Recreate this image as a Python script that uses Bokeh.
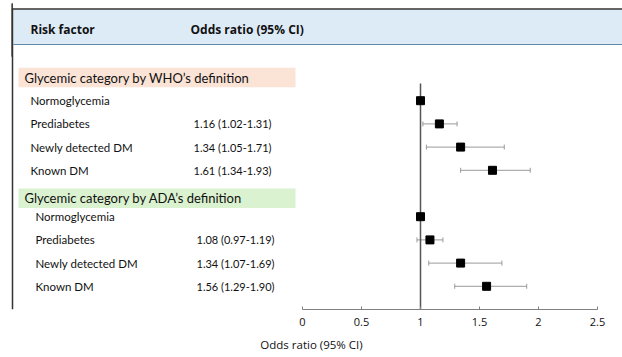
import numpy as np
from bokeh.plotting import figure
from bokeh.models import Range1d, LinearAxis, FixedTicker, ColumnDataSource, Label
from bokeh.core.properties import value
from bokeh.embed import file_html
from bokeh.resources import INLINE

# ---- data ----
groups = ["Glycemic category by WHO\u2019s definition", "Glycemic category by ADA\u2019s definition"]
categories = ["Normoglycemia", "Prediabetes", "Newly detected DM", "Known DM"]
who_or = [1.0, 1.16, 1.34, 1.61]
who_lo = [None, 1.02, 1.05, 1.34]
who_hi = [None, 1.31, 1.71, 1.93]
who_txt = ["", "1.16 (1.02-1.31)", "1.34 (1.05-1.71)", "1.61 (1.34-1.93)"]
ada_or = [1.0, 1.08, 1.34, 1.56]
ada_lo = [None, 0.97, 1.07, 1.29]
ada_hi = [None, 1.19, 1.69, 1.90]
ada_txt = ["", "1.08 (0.97-1.19)", "1.34 (1.07-1.69)", "1.56 (1.29-1.90)"]
tick_vals = [0, 0.5, 1, 1.5, 2, 2.5]
tick_labels = ["0", "0.5", "1", "1.5", "2", "2.5"]

# ---- layout helpers (page pixel -> data) ----
X0, XS = 302.0, 118.0      # page x of OR=0, px per unit
Y0, YS = 77.0, 23.2        # page y of row 0, px per row
def dx(px):
    return (px - X0) / XS
def dy(py):
    return (py - Y0) / YS

W, H = 622, 357
FONT = "Lato"
HFONT = "Open Sans"

p = figure(width=W, height=H, output_backend="svg", toolbar_location=None,
           x_axis_type=None, y_axis_type=None,
           x_range=Range1d(dx(0), dx(W)), y_range=Range1d(dy(309), dy(0)),
           min_border_left=0, min_border_right=0, min_border_top=0, min_border_bottom=48)
p.outline_line_color = None
p.background_fill_color = "white"
p.border_fill_color = "white"

# header band
p.quad(left=dx(13), right=dx(W), top=dy(9), bottom=dy(44), fill_color="#DDEBF7", line_color=None)
p.segment(x0=dx(13), y0=dy(44), x1=dx(W), y1=dy(44), line_color="#5E89A8", line_width=1.2)
p.segment(x0=dx(12), y0=dy(8.4), x1=dx(W), y1=dy(8.4), line_color="#333333", line_width=1.5)
# left border (frame part)
p.segment(x0=dx(12), y0=dy(8), x1=dx(12), y1=dy(309), line_color="#333333", line_width=1.5)
# left border below the frame
p.add_layout(Label(x=11.5, y=306, x_units="screen", y_units="screen", text=" ",
                   text_font_size="1px", anchor="top_left",
                   padding=dict(left=0, right=0, top=0, bottom=52),
                   background_fill_color="#333333", background_fill_alpha=1.0,
                   border_line_color="#333333", border_line_width=1))

p.text(x=[dx(30)], y=[dy(29)], text=["Risk factor"], text_font=value(HFONT), text_font_style="bold",
       text_font_size="12px", text_baseline="middle", text_color="#111111")
p.text(x=[dx(190)], y=[dy(29)], text=["Odds ratio (95% CI)"], text_font=value(HFONT), text_font_style="bold",
       text_font_size="12px", text_baseline="middle", text_color="#111111")

band_colors = ["#FBE3D6", "#DAF2D0"]
group_or = [who_or, ada_or]
group_lo = [who_lo, ada_lo]
group_hi = [who_hi, ada_hi]
group_txt = [who_txt, ada_txt]
header_shift = [0.0, 0.2]
label_x = [30, 35]
val_x = [193, 196]

for g in range(2):
    base = g * 5
    hy = base + header_shift[g]
    p.quad(left=dx(18), right=dx(295), top=hy - 0.42, bottom=hy + 0.42,
           fill_color=band_colors[g], line_color=None)
    p.text(x=[dx(24)], y=[hy], text=[groups[g]], text_font=value(FONT), text_font_size="13px",
           text_baseline="middle", text_color="#111111")
    rows = [base + 1 + i for i in range(len(categories))]
    p.text(x=[dx(label_x[g])] * 4, y=rows, text=categories, text_font=value(FONT),
           text_font_size="11.5px", text_baseline="middle", text_color="#111111")
    p.text(x=[dx(val_x[g])] * 4, y=rows, text=group_txt[g], text_font=value(FONT),
           text_font_size="11px", text_baseline="middle", text_color="#111111")
    idx = [i for i in range(4) if group_lo[g][i] is not None]
    src = ColumnDataSource(dict(
        y=[rows[i] for i in idx],
        lo=[group_lo[g][i] for i in idx],
        hi=[group_hi[g][i] for i in idx]))
    p.segment(x0="lo", y0="y", x1="hi", y1="y", source=src, line_color="#9A9A9A", line_width=1)
    p.scatter(x="lo", y="y", source=src, marker="dash", angle=np.pi / 2, size=5,
              line_color="#9A9A9A", line_width=1)
    p.scatter(x="hi", y="y", source=src, marker="dash", angle=np.pi / 2, size=5,
              line_color="#9A9A9A", line_width=1)

# reference line at OR = 1
p.segment(x0=1, y0=dy(83), x1=1, y1=dy(309), line_color="#555555", line_width=1.5)

for g in range(2):
    rows = [g * 5 + 1 + i for i in range(4)]
    p.scatter(x=group_or[g], y=rows, marker="square", size=8, fill_color="black", line_color="black")

ax = LinearAxis(ticker=FixedTicker(ticks=tick_vals), bounds=(0, 2.5),
                major_label_overrides={v: l for v, l in zip(tick_vals, tick_labels)},
                axis_label="Odds ratio (95% CI)")
ax.axis_line_color = "#808080"
ax.major_tick_line_color = "#808080"
ax.major_tick_in = 3
ax.major_tick_out = 0
ax.minor_tick_line_color = None
ax.major_label_text_font = HFONT
ax.major_label_text_font_size = "11px"
ax.major_label_text_color = "#111111"
ax.major_label_standoff = 8
ax.axis_label_text_font = HFONT
ax.axis_label_text_font_size = "11.5px"
ax.axis_label_text_font_style = "normal"
ax.axis_label_text_color = "#111111"
ax.axis_label_standoff = 8
p.add_layout(ax, "below")

open("out.html", "w").write(file_html(p, INLINE))
